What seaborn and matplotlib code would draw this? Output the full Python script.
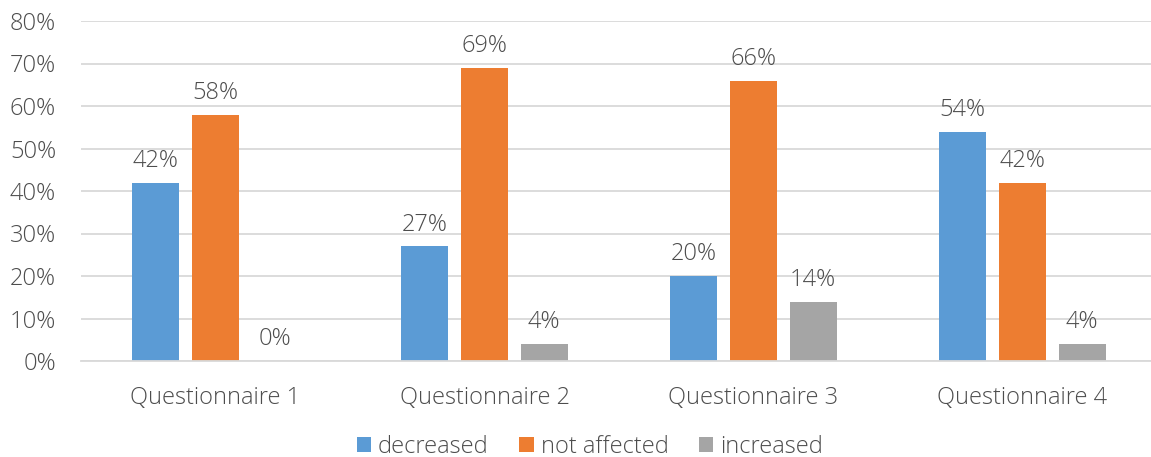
import matplotlib
matplotlib.use("Agg")
import matplotlib.pyplot as plt
import seaborn as sns
import pandas as pd
from matplotlib.patches import Patch

categories = ["Questionnaire 1", "Questionnaire 2", "Questionnaire 3", "Questionnaire 4"]
series_names = ["decreased", "not affected", "increased"]
decreased = [42, 27, 20, 54]
not_affected = [58, 69, 66, 42]
increased = [0, 4, 14, 4]
y_ticks = [0, 10, 20, 30, 40, 50, 60, 70, 80]
colors = ["#5B9BD5", "#ED7D31", "#A5A5A5"]

rows = []
for name, vals in zip(series_names, [decreased, not_affected, increased]):
    for cat, v in zip(categories, vals):
        rows.append({"category": cat, "series": name, "value": v})
df = pd.DataFrame(rows)

sns.set_theme(style="white")
plt.rcParams["font.family"] = ["Open Sans", "DejaVu Sans"]
text_color = "#4D4D4D"
fs = 17

W, H = 1151, 457
fig = plt.figure(figsize=(W / 100, H / 100), dpi=100)
left_px, right_px = 81, 1157
ax = fig.add_axes([left_px / W, 1 - 361 / H, (right_px - left_px) / W, (361 - 21) / H])

sns.barplot(data=df, x="category", y="value", hue="series", hue_order=series_names,
            order=categories, palette=colors, width=0.666, gap=0.218, ax=ax,
            legend=False, saturation=1, errorbar=None, linewidth=0)

ax.set_ylim(0, 80)
ax.set_xlim(-0.5, 3.5)
ax.set_yticks(y_ticks)
ax.set_yticklabels([f"{t}%" for t in y_ticks])
ax.yaxis.grid(True, color="#D9D9D9", linewidth=1.3)
ax.set_axisbelow(True)
for s in ["top", "right", "left"]:
    ax.spines[s].set_visible(False)
ax.spines["bottom"].set_color("#D9D9D9")
ax.spines["bottom"].set_linewidth(1.3)
ax.set_xlabel("")
ax.set_ylabel("")
ax.tick_params(axis="both", length=0, labelsize=fs, labelcolor=text_color)
ax.tick_params(axis="y", pad=18)
ax.tick_params(axis="x", pad=18)
for lab in ax.get_xticklabels() + ax.get_yticklabels():
    lab.set_fontweight("light")

for container in ax.containers:
    ax.bar_label(container, labels=[f"{v:.0f}%" for v in container.datavalues],
                 padding=7, fontsize=fs, color=text_color, fontweight="light")

handles = [Patch(facecolor=c, edgecolor="none") for c in colors]
fig.legend(handles, series_names, loc="center", bbox_to_anchor=(590 / W, 1 - 447 / H),
           ncol=3, frameon=False, handlelength=0.6, handleheight=0.6,
           handletextpad=0.3, columnspacing=1.3,
           prop={"weight": "light", "size": fs})
for t in fig.legends[0].get_texts():
    t.set_color(text_color)

fig.savefig("out.png", dpi=100)
